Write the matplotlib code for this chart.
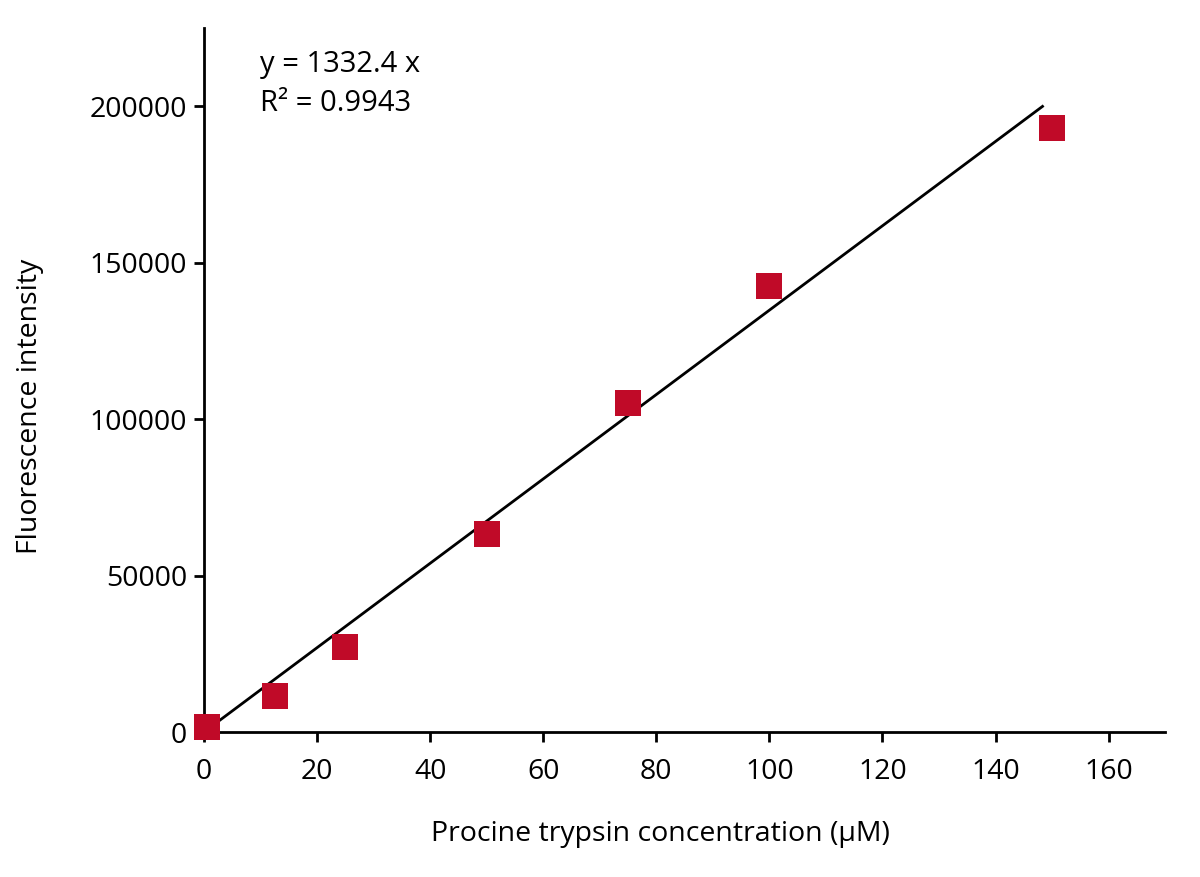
import matplotlib
matplotlib.use("Agg")
from matplotlib import pyplot as plt
import numpy as np

plt.rcParams['font.family'] = ['Open Sans', 'DejaVu Sans']

Concentration = [0.5, 12.5, 25, 50, 75, 100, 150]
Intensity = [1600, 11500, 27300, 63400, 105300, 142700, 193000]
Slope = 1332.4
R2 = 0.9943
LineEnd = 148.3
XTicks = [0, 20, 40, 60, 80, 100, 120, 140, 160]
YTicks = [0, 50000, 100000, 150000, 200000]

fig = plt.figure(figsize=(12, 8.77), dpi=100)
ax = fig.add_axes([0.17, 0.1653, 0.801, 0.8027])

fit_x = np.array([0, LineEnd])
ax.plot(fit_x, Slope * fit_x * 1.012, color="black", lw=2, zorder=2)
ax.scatter(Concentration, Intensity, marker="s", s=330, color="#C00A28",
           linewidths=0, zorder=3, clip_on=False)

ax.set_xlim(0, 170)
ax.set_ylim(0, 225000)
ax.set_xticks(XTicks)
ax.set_yticks(YTicks)
ax.tick_params(labelsize=20.5, width=2, length=7, color="black")
ax.tick_params(axis="x", pad=12)
ax.tick_params(axis="y", pad=5)
for side in ["top", "right"]:
    ax.spines[side].set_visible(False)
for side in ["left", "bottom"]:
    ax.spines[side].set_linewidth(2)

ax.set_xlabel("Procine trypsin concentration (μM)", fontsize=20.5, labelpad=24,
              x=0.4745)
ax.set_ylabel("Fluorescence intensity", fontsize=20.5, labelpad=33, y=0.463)

ax.text(0.058, 0.948, "y = 1332.4 x", transform=ax.transAxes, fontsize=21,
        va="center")
ax.text(0.058, 0.893, "R² = %.4f" % R2, transform=ax.transAxes, fontsize=21,
        va="center")

fig.savefig("out.png", dpi=100)
